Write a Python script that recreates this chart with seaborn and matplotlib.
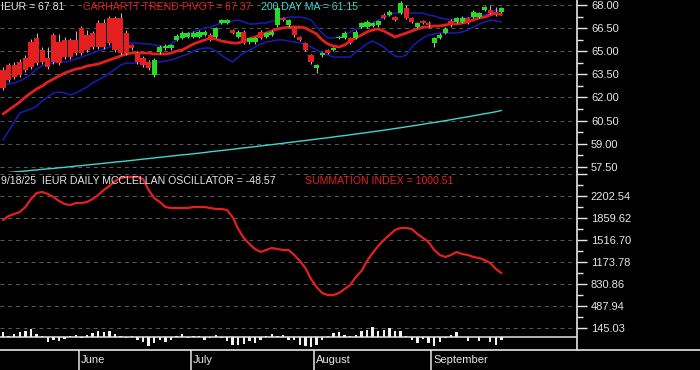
import numpy as np
import pandas as pd
import matplotlib
matplotlib.use("Agg")
import matplotlib.pyplot as plt
import seaborn as sns
from matplotlib.ticker import FixedLocator, FixedFormatter

sns.set_style("dark")
plt.rcParams['font.family'] = ['Liberation Sans', 'DejaVu Sans']

# ---------------- data ----------------
months = ["June", "July", "August", "September"]
month_start = [14, 34, 56, 77]

open_ = [63.78, 64.10, 64.10, 64.30, 64.56, 65.60, 65.86, 65.08, 64.56, 66.05,
         65.60, 65.73, 65.73, 65.73, 66.51, 66.05, 66.18, 66.83, 66.83, 67.16,
         67.16, 67.16, 66.18, 65.40, 64.88, 64.56, 64.30, 63.45, 64.95, 65.21,
         65.21, 65.73, 65.86, 65.92, 65.92, 65.92, 66.05, 66.05, 65.92, 66.83,
         66.83, 66.38, 65.92, 66.25, 65.60, 65.60, 66.25, 65.92, 66.05, 66.70,
         67.16, 66.70, 66.51, 65.92, 65.53, 64.75, 63.91, 64.75, 65.08, 65.08,
         65.86, 65.86, 65.86, 65.86, 66.57, 66.57, 66.63, 66.70, 67.35, 67.35,
         67.22, 67.48, 67.81, 67.16, 66.57, 66.96, 66.83, 65.53, 65.86, 66.18,
         66.96, 66.90, 66.90, 67.16, 67.22, 67.22, 67.68, 67.68, 67.55, 67.55]
close = [62.61, 63.13, 63.32, 63.45, 63.78, 63.97, 64.23, 64.30, 63.97, 64.30,
         64.23, 64.62, 64.62, 64.88, 64.88, 65.08, 65.27, 65.27, 65.27, 65.53,
         65.08, 64.88, 64.88, 65.21, 64.30, 64.10, 63.91, 64.43, 65.27, 65.34,
         65.40, 65.99, 66.18, 66.18, 66.18, 66.25, 66.25, 65.73, 66.51, 67.03,
         67.03, 66.18, 66.25, 65.53, 65.86, 65.86, 65.86, 66.18, 66.25, 67.81,
         67.03, 67.03, 66.05, 65.73, 65.08, 64.30, 64.10, 64.88, 64.88, 65.21,
         65.92, 66.18, 65.53, 66.25, 66.83, 66.90, 66.83, 66.96, 67.16, 67.55,
         67.03, 68.13, 67.16, 66.90, 66.83, 66.83, 66.70, 65.86, 66.05, 66.44,
         66.70, 67.16, 67.16, 66.83, 67.55, 67.48, 67.87, 67.48, 67.35, 67.81]
high = [63.95, 64.25, 64.30, 64.50, 64.75, 65.80, 66.20, 65.30, 65.30, 66.20,
        66.10, 65.90, 65.85, 66.30, 66.65, 66.40, 66.30, 67.00, 67.10, 67.30,
        67.30, 67.50, 66.40, 65.50, 65.00, 64.70, 64.45, 64.55, 65.40, 65.45,
        65.50, 66.10, 66.30, 66.25, 66.30, 66.35, 66.40, 66.15, 66.60, 67.10,
        67.10, 66.45, 66.35, 66.35, 65.95, 65.95, 66.35, 66.25, 66.35, 67.95,
        67.25, 67.10, 66.60, 66.00, 65.60, 64.85, 64.20, 64.95, 65.15, 65.30,
        66.00, 66.30, 65.95, 66.35, 66.90, 67.00, 66.90, 67.05, 67.45, 67.65,
        67.30, 68.25, 68.00, 67.25, 66.90, 67.05, 66.95, 65.95, 66.15, 66.55,
        67.10, 67.25, 67.30, 67.25, 67.65, 67.55, 67.95, 68.00, 67.90, 67.90]
low = [62.45, 63.00, 63.20, 63.35, 63.65, 63.85, 64.10, 64.20, 63.85, 64.20,
       64.10, 64.50, 64.50, 64.75, 64.75, 64.95, 65.15, 65.15, 65.15, 65.40,
       64.95, 64.75, 64.75, 65.10, 64.20, 64.00, 63.80, 63.30, 64.85, 65.10,
       65.10, 65.65, 65.80, 65.85, 65.85, 65.85, 65.99, 65.65, 65.85, 66.75,
       66.75, 66.10, 65.85, 65.45, 65.50, 65.50, 65.80, 65.85, 65.99, 66.60,
       66.95, 66.60, 65.95, 65.65, 65.00, 64.20, 63.60, 64.65, 64.80, 65.00,
       65.80, 65.80, 65.45, 65.80, 66.50, 66.50, 66.55, 66.60, 67.10, 67.30,
       66.95, 67.40, 67.10, 66.85, 66.50, 66.75, 66.60, 65.30, 65.80, 66.10,
       66.60, 66.85, 66.85, 66.75, 67.15, 67.15, 67.60, 67.40, 67.30, 67.45]

pivot = [60.92, 61.18, 61.44, 61.70, 62.03, 62.29, 62.55, 62.74, 63.00, 63.19,
         63.39, 63.58, 63.71, 63.84, 63.91, 64.04, 64.10, 64.17, 64.30, 64.43,
         64.56, 64.69, 64.82, 64.88, 64.88, 64.88, 64.88, 64.82, 64.82, 64.82,
         64.88, 65.01, 65.08, 65.27, 65.47, 65.60, 65.73, 65.86, 65.79, 65.66,
         65.60, 65.53, 65.53, 65.66, 65.79, 65.92, 66.05, 66.18, 66.31, 66.44,
         66.51, 66.57, 66.57, 66.57, 66.51, 66.31, 66.12, 65.73, 65.47, 65.34,
         65.27, 65.40, 65.66, 65.86, 66.05, 66.25, 66.38, 66.44, 66.31, 66.12,
         65.92, 66.05, 66.18, 66.31, 66.44, 66.57, 66.57, 66.64, 66.64, 66.70,
         66.77, 66.77, 66.83, 66.90, 67.03, 67.16, 67.22, 67.35, 67.48, 67.37]
upper = [62.81, 62.87, 62.94, 63.06, 63.26, 63.52, 63.84, 64.04, 64.17, 64.23,
         64.30, 64.30, 64.36, 64.49, 64.62, 64.75, 64.88, 65.01, 65.14, 65.27,
         65.40, 65.47, 65.53, 65.53, 65.53, 65.47, 65.47, 65.40, 65.34, 65.27,
         65.47, 65.73, 65.99, 66.18, 66.25, 66.38, 66.51, 66.57, 66.70, 66.83,
         66.90, 66.96, 67.03, 66.90, 66.77, 66.77, 66.83, 66.83, 66.96, 67.03,
         67.16, 67.22, 67.22, 67.22, 67.16, 67.03, 66.57, 66.18, 65.86, 65.86,
         65.92, 66.05, 66.25, 66.44, 66.57, 66.70, 66.83, 67.03, 67.16, 67.35,
         67.48, 67.48, 67.48, 67.48, 67.48, 67.48, 67.35, 67.29, 67.16, 67.09,
         67.03, 67.09, 67.16, 67.16, 67.22, 67.29, 67.35, 67.48, 67.68, 67.61]
lower = [59.23, 59.82, 60.40, 60.99, 61.12, 61.25, 61.44, 61.77, 62.03, 62.29,
         62.35, 62.29, 62.16, 62.29, 62.48, 62.68, 62.94, 63.13, 63.32, 63.58,
         63.84, 64.10, 64.23, 64.23, 64.23, 64.23, 64.23, 64.23, 64.30, 64.36,
         64.43, 64.56, 64.69, 64.82, 65.01, 65.14, 65.21, 65.21, 65.01, 64.75,
         64.49, 64.30, 64.62, 64.88, 65.08, 65.27, 65.47, 65.60, 65.66, 65.73,
         65.73, 65.66, 65.60, 65.53, 65.47, 65.27, 65.08, 64.88, 64.75, 64.62,
         64.62, 64.62, 64.62, 64.95, 65.21, 65.47, 65.66, 65.47, 65.27, 64.95,
         64.69, 64.62, 64.75, 65.27, 65.60, 65.86, 66.05, 66.12, 66.18, 66.18,
         66.18, 66.18, 66.25, 66.38, 66.57, 66.77, 66.90, 67.03, 66.96, 66.90]
ma200 = [57.09, 57.12, 57.16, 57.19, 57.22, 57.26, 57.29, 57.33, 57.36, 57.39,
         57.43, 57.46, 57.50, 57.54, 57.57, 57.61, 57.65, 57.68, 57.72, 57.76,
         57.80, 57.83, 57.87, 57.91, 57.95, 57.99, 58.03, 58.07, 58.11, 58.15,
         58.19, 58.23, 58.27, 58.30, 58.34, 58.38, 58.42, 58.47, 58.51, 58.55,
         58.59, 58.63, 58.68, 58.72, 58.76, 58.80, 58.85, 58.89, 58.93, 58.98,
         59.02, 59.07, 59.11, 59.16, 59.20, 59.25, 59.29, 59.34, 59.38, 59.43,
         59.48, 59.52, 59.57, 59.62, 59.67, 59.72, 59.77, 59.82, 59.87, 59.92,
         59.98, 60.03, 60.09, 60.14, 60.20, 60.26, 60.32, 60.37, 60.43, 60.49,
         60.55, 60.62, 60.68, 60.74, 60.81, 60.87, 60.94, 61.00, 61.07, 61.15]

summation = [1828, 1891, 1922, 1953, 2031, 2156, 2249, 2265, 2234, 2187,
             2125, 2078, 2062, 2093, 2093, 2109, 2156, 2218, 2296, 2358,
             2436, 2483, 2499, 2499, 2499, 2467, 2296, 2171, 2109, 2031,
             2016, 2016, 2016, 2016, 2031, 2031, 2031, 2016, 2000, 2000,
             1984, 1875, 1688, 1548, 1454, 1376, 1330, 1361, 1392, 1376,
             1361, 1361, 1283, 1189, 1080, 909, 784, 690, 659, 659,
             690, 753, 815, 940, 1033, 1189, 1314, 1423, 1517, 1595,
             1673, 1704, 1704, 1688, 1610, 1548, 1485, 1361, 1283, 1252,
             1283, 1330, 1298, 1283, 1252, 1236, 1205, 1158, 1065, 1000.51]
oscillator = [80, 16, 48, 80, 96, 128, 48, 16, -80, -48,
              -64, -32, 16, 32, -16, 32, 64, 96, 80, 96,
              48, 16, -16, 16, -48, -80, -144, -96, -48, -80,
              -48, 16, 48, -16, 16, 16, -48, -16, 32, -16,
              -64, -128, -128, -112, -64, -96, -48, 16, 48, 16,
              32, -48, -48, -128, -144, -160, -128, -48, 16, 64,
              80, 32, 16, 32, 96, 112, 160, 96, 112, 144,
              96, 96, 16, -48, -96, -32, -96, -144, -80, -16,
              32, 80, 0, -64, 0, -64, 0, -80, -128, -48.57]

price_ticks = [57.50, 59.00, 60.50, 62.00, 63.50, 65.00, 66.50, 68.00]
price_labels = ["57.50", "59.00", "60.50", "62.00", "63.50", "65.00", "66.50", "68.00"]
sum_ticks = [145.03, 487.94, 830.86, 1173.78, 1516.70, 1859.62, 2202.54, 2545.46]
sum_labels = ["145.03", "487.94", "830.86", "1173.78", "1516.70", "1859.62", "2202.54", ""]

# ---------------- figure ----------------
W, H = 700, 370
BG = "black"
FG = "#e6e6e6"
RED = "#e3201f"
GREEN = "#22dd22"
BLUE = "#1a1ab8"
CYAN = "#3fd6cc"
GRID = "#5a5a5a"

fig = plt.figure(figsize=(W / 100, H / 100), dpi=100, facecolor=BG)


def box(x0, y0, x1, y1):
    return [x0 / W, 1 - y1 / H, (x1 - x0) / W, (y1 - y0) / H]


ax_p = fig.add_axes(box(0, 0, 577, 172))
ax_s = fig.add_axes(box(0, 172, 577, 350))
ax_o = fig.add_axes(box(0, 325, 577, 349))
ax_m = fig.add_axes(box(0, 350, 700, 370))

n = len(close)
days = np.arange(n)
df = pd.DataFrame({"day": days, "pivot": pivot, "upper": upper, "lower": lower,
                   "ma200": ma200, "summation": summation})

x_lo = -3 / 5.6
x_hi = 574 / 5.6

for ax in (ax_p, ax_s, ax_o):
    ax.set_xlim(x_lo, x_hi)
    ax.set_facecolor(BG)
    for s in ("top", "left", "bottom"):
        ax.spines[s].set_visible(False)
    ax.spines["right"].set_visible(True)
    ax.spines["right"].set_color(FG)
    ax.spines["right"].set_linewidth(1.2)
    ax.set_xticks([])
ax_o.set_facecolor("none")
ax_o.spines["right"].set_visible(False)

# ---- price panel ----
ax_p.set_ylim(57.156, 68.325)
ax_p.yaxis.tick_right()
ax_p.yaxis.set_major_locator(FixedLocator(price_ticks))
ax_p.yaxis.set_major_formatter(FixedFormatter(price_labels))
ax_p.yaxis.set_minor_locator(FixedLocator([t + 0.75 for t in price_ticks[:-1]]))
ax_p.grid(axis="y", which="major", color=GRID, linestyle=(0, (4, 4)), linewidth=0.7)

sns.lineplot(data=df, x="day", y="ma200", ax=ax_p, color=CYAN, linewidth=1.0, legend=False)
sns.lineplot(data=df, x="day", y="upper", ax=ax_p, color=BLUE, linewidth=1.1, legend=False)
sns.lineplot(data=df, x="day", y="lower", ax=ax_p, color=BLUE, linewidth=1.1, legend=False)
sns.lineplot(data=df, x="day", y="pivot", ax=ax_p, color=RED, linewidth=2.0, legend=False)

o = np.array(open_)
c = np.array(close)
colors = [GREEN if cc >= oo else RED for oo, cc in zip(o, c)]
ax_p.vlines(days, low, high, color="#b8b8b8", linewidth=0.8, zorder=4)
bottoms = np.minimum(o, c)
heights = np.maximum(np.abs(c - o), 0.07)
ax_p.bar(days, heights, bottom=bottoms, width=0.9, color=colors, edgecolor="none", zorder=5)

# ---- summation panel ----
ax_s.set_ylim(-197.9, 2576.6)
ax_s.yaxis.tick_right()
ax_s.yaxis.set_major_locator(FixedLocator(sum_ticks))
ax_s.yaxis.set_major_formatter(FixedFormatter(sum_labels))
ax_s.yaxis.set_minor_locator(FixedLocator([(a + b) / 2 for a, b in zip(sum_ticks[:-1], sum_ticks[1:])]))
ax_s.grid(axis="y", which="major", color=GRID, linestyle=(0, (4, 4)), linewidth=0.7)
sns.lineplot(data=df, x="day", y="summation", ax=ax_s, color=RED, linewidth=1.6, legend=False)

for ax in (ax_p, ax_s):
    ax.set_xlabel("")
    ax.set_ylabel("")
    ax.tick_params(axis="y", which="major", length=7.5, width=1.0, color=FG,
                   labelcolor=FG, labelsize=8, pad=2.5)
    ax.tick_params(axis="y", which="minor", length=4.5, width=1.0, color=FG)

# ---- oscillator bars ----
ax_o.set_ylim(-192, 192)
ax_o.axhline(0, color=FG, linewidth=1.1)
ax_o.bar(days, oscillator, width=0.4, color="#f2f2f2", edgecolor="none")
ax_o.set_yticks([])

# ---- month axis ----
ax_m.set_xlim(x_lo, 697 / 5.6)
ax_m.set_ylim(0, 1)
ax_m.set_facecolor(BG)
for s in ("left", "right", "bottom"):
    ax_m.spines[s].set_visible(False)
ax_m.spines["top"].set_visible(True)
ax_m.spines["top"].set_color(FG)
ax_m.spines["top"].set_linewidth(1.2)
ax_m.set_xticks([])
ax_m.set_yticks([])
ax_m.vlines([m - 0.5 for m in month_start], 0, 1, color=FG, linewidth=1.1)
for name, m in zip(months, month_start):
    ax_m.text(m - 0.5 + 0.45, 0.5, name, color=FG, fontsize=8, va="center", ha="left")

# ---- header texts ----
hs = 7.6
fig.text(1 / W, 1 - 6.5 / H, "IEUR = 67.81", color=FG, fontsize=hs, va="center", ha="left")
fig.text(83 / W, 1 - 6.5 / H, "CARHARTT TREND PIVOT = 67.37", color=RED, fontsize=hs, va="center", ha="left")
fig.text(261 / W, 1 - 6.5 / H, "200 DAY MA = 61.15", color=CYAN, fontsize=hs, va="center", ha="left")
fig.text(1 / W, 1 - 181.5 / H, "9/18/25  IEUR DAILY MCCLELLAN OSCILLATOR = -48.57", color=FG,
         fontsize=hs, va="center", ha="left")
fig.text(305 / W, 1 - 181.5 / H, "SUMMATION INDEX = 1000.51", color=RED, fontsize=hs, va="center", ha="left")

fig.savefig("out.png", dpi=100, facecolor=BG)
